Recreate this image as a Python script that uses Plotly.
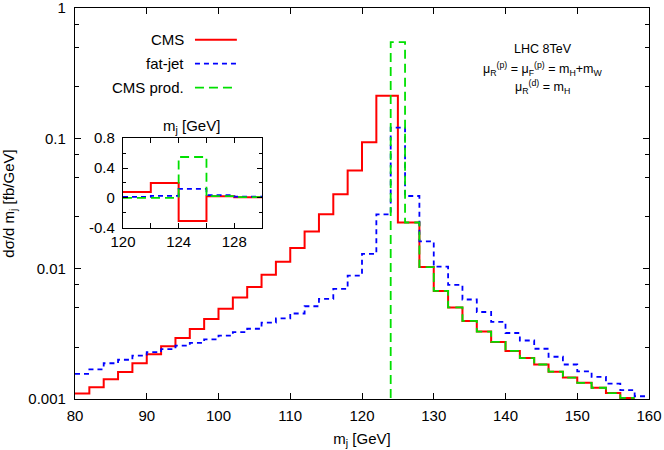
import plotly.graph_objects as go

# ---------------- data ----------------
# Main panel: step histograms (bin edges, values per bin)
CMS_EDGES = [80, 82, 84, 86, 88, 90, 92, 94, 96, 98, 100, 102, 104, 106, 108, 110,
             112, 114, 116, 118, 120, 122, 125, 128, 130, 132, 134, 136, 138, 140,
             142, 144, 146, 148, 150, 152, 154, 156, 158]
CMS_VALUES = [0.00110, 0.00123, 0.00142, 0.00161, 0.00188, 0.00220, 0.00254, 0.00294,
              0.00345, 0.00411, 0.00492, 0.00600, 0.00724, 0.00899, 0.0113, 0.0144,
              0.0193, 0.0262, 0.0372, 0.0567, 0.0932, 0.212, 0.0226, 0.01028,
              0.00675, 0.00504, 0.00397, 0.00329, 0.00274, 0.00234, 0.00206,
              0.00184, 0.00162, 0.00146, 0.00133, 0.00122, 0.00111, 0.00102]

FAT_EDGES = list(range(80, 162, 2))
FAT_VALUES = [0.00156, 0.00169, 0.00188, 0.00200, 0.00215, 0.00229, 0.00241, 0.00257,
              0.00270, 0.00287, 0.00306, 0.00326, 0.00346, 0.00385, 0.00415, 0.00453,
              0.00515, 0.00586, 0.00699, 0.00885, 0.0130, 0.0261, 0.121, 0.0361,
              0.0162, 0.01035, 0.0075, 0.0058, 0.00465, 0.0039, 0.00321, 0.00281,
              0.00243, 0.00211, 0.00184, 0.00163, 0.00148, 0.00131, 0.00117, 0.00105]

PROD_EDGES = [124, 124, 126, 128, 130, 132, 134, 136, 138, 140, 142, 144, 146, 148,
              150, 152, 154, 156, 158]
PROD_VALUES = [1e-6, 0.548, 0.0226, 0.01028, 0.00675, 0.00504, 0.00397, 0.00329,
               0.00274, 0.00234, 0.00206, 0.00184, 0.00162, 0.00146, 0.00133,
               0.00122, 0.00111, 0.00102]

# Inset panel (linear scale), bins 120..130
INSET_EDGES = [120, 122, 124, 126, 128, 130]
INSET_CMS = [0.08, 0.20, -0.31, 0.023, 0.010]
INSET_FAT = [0.013, 0.026, 0.121, 0.036, 0.016]
INSET_PROD = [0.0, 0.0, 0.548, 0.0226, 0.0103]

SERIES_NAMES = ["CMS", "fat-jet", "CMS prod."]
Y_MAJOR = [0.001, 0.01, 0.1, 1]
Y_MAJOR_TEXT = ["0.001", "0.01", "0.1", "1"]
X_TICKS = [80, 90, 100, 110, 120, 130, 140, 150, 160]

RED = "#ff0000"
BLUE = "#0000ff"
GREEN = "#00e000"
FONT = "Liberation Sans, Arial, sans-serif"


def step_xy(edges, values):
    xs = list(edges)
    ys = list(values) + [values[-1]]
    return xs, ys


styles = [
    dict(color=RED, width=2, dash="solid"),
    dict(color=BLUE, width=1.8, dash="5px,4px"),
    dict(color=GREEN, width=1.8, dash="9px,5px"),
]

fig = go.Figure()

for edges, vals, st in [(CMS_EDGES, CMS_VALUES, styles[0]),
                        (FAT_EDGES, FAT_VALUES, styles[1]),
                        (PROD_EDGES, PROD_VALUES, styles[2])]:
    xs, ys = step_xy(edges, vals)
    fig.add_trace(go.Scatter(x=xs, y=ys, mode="lines", line_shape="hv",
                             line=st, showlegend=False, hoverinfo="skip",
                             xaxis="x", yaxis="y"))

for vals, st in [(INSET_CMS, styles[0]), (INSET_FAT, styles[1]), (INSET_PROD, styles[2])]:
    xs, ys = step_xy(INSET_EDGES, vals)
    fig.add_trace(go.Scatter(x=xs, y=ys, mode="lines", line_shape="hv",
                             line=st, showlegend=False, hoverinfo="skip",
                             xaxis="x2", yaxis="y2"))

minor_y = []
for d in [0.001, 0.01, 0.1]:
    minor_y += [2.5 * d, 5 * d, 7.5 * d]

axis_common = dict(showline=True, linecolor="black", linewidth=1.3, mirror="allticks",
                   ticks="inside", tickcolor="black", showgrid=False, zeroline=False,
                   automargin=False, ticklabeloverflow="allow",
                   tickfont=dict(family=FONT, size=15, color="black"))

fig.update_layout(
    width=664, height=450,
    margin=dict(l=75, r=15, t=8, b=51),
    paper_bgcolor="white", plot_bgcolor="white",
    font=dict(family=FONT, size=15, color="black"),
    xaxis=dict(range=[80, 160], tickvals=X_TICKS, ticklen=6, domain=[0, 1],
               ticklabelstandoff=3,
               title=dict(text="m<sub>j</sub> [GeV]", standoff=10,
                          font=dict(family=FONT, size=15)),
               **axis_common),
    yaxis=dict(type="log", range=[-3, 0], tickvals=Y_MAJOR, ticktext=Y_MAJOR_TEXT,
               ticklen=6, domain=[0, 1], ticklabelstandoff=5,
               minor=dict(tickvals=minor_y, ticks="inside", ticklen=3.5,
                          tickcolor="black", showgrid=False),
               title=dict(text="dσ/d m<sub>j</sub> [fb/GeV]", standoff=16,
                          font=dict(family=FONT, size=15)),
               **axis_common),
    xaxis2=dict(range=[120, 130], tickvals=[120, 124, 128], ticklen=5,
                domain=[0.0836, 0.326], anchor="y2",
                minor=dict(tickvals=[122, 126], ticks="inside", ticklen=5,
                           tickcolor="black", showgrid=False),
                **axis_common),
    yaxis2=dict(range=[-0.4, 0.8], tickvals=[-0.4, 0, 0.4, 0.8],
                ticktext=["-0.4", "0", "0.4", "0.8"], ticklen=5,
                domain=[0.438, 0.667], anchor="x2", ticklabelstandoff=4,
                minor=dict(tickvals=[-0.2, 0.2, 0.6], ticks="inside", ticklen=3,
                           tickcolor="black", showgrid=False),
                **axis_common),
)

# Legend (gnuplot style: right-aligned text, sample to the right)
leg_y = [0.9186, 0.8575, 0.7964]
for name, st, yy in zip(SERIES_NAMES, styles, leg_y):
    fig.add_annotation(x=0.193, y=yy, xref="paper", yref="paper", text=name,
                       showarrow=False, xanchor="right", yanchor="middle",
                       font=dict(family=FONT, size=15, color="black"))
    fig.add_shape(type="line", xref="paper", yref="paper", x0=0.209, x1=0.282,
                  y0=yy, y1=yy, line=st)

# Inset title
fig.add_annotation(x=0.203, y=0.697, xref="paper", yref="paper",
                   text="m<sub>j</sub> [GeV]", showarrow=False,
                   xanchor="center", yanchor="middle",
                   font=dict(family=FONT, size=15, color="black"))

# Info text
info = ["LHC 8TeV",
        "μ<sub>R</sub><sup>(p)</sup> = μ<sub>F</sub><sup>(p)</sup> = m<sub>H</sub>+m<sub>W</sub>",
        "μ<sub>R</sub><sup>(d)</sup> = m<sub>H</sub>"]
for txt, yy in zip(info, [0.8957, 0.845, 0.797]):
    fig.add_annotation(x=0.815, y=yy, xref="paper", yref="paper", text=txt,
                       showarrow=False, xanchor="center", yanchor="middle",
                       font=dict(family=FONT, size=12.5, color="black"))

fig.write_html("out.html", config={"displayModeBar": False},
               post_script="document.body.style.margin='0';document.body.style.overflow='hidden';")
